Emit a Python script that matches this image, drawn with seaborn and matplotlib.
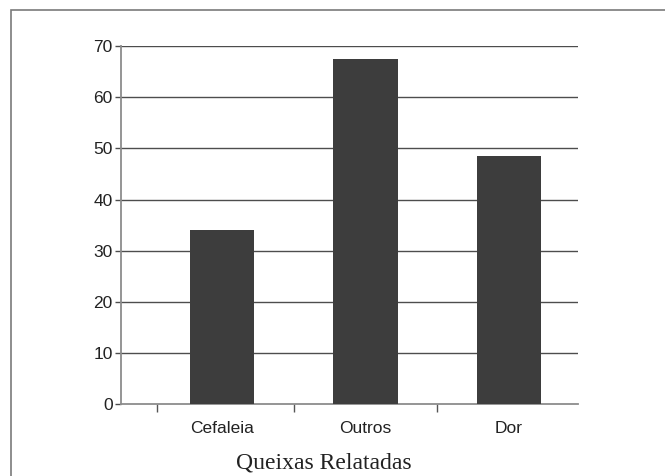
import matplotlib
matplotlib.use("Agg")
import matplotlib.pyplot as plt
import pandas as pd
import seaborn as sns
from matplotlib.patches import Rectangle

categories = ["Cefaleia", "Outros", "Dor"]
values = [34.0, 67.5, 48.5]
y_ticks = [0, 10, 20, 30, 40, 50, 60, 70]

df = pd.DataFrame({"queixa": categories, "n": values})

sns.set_theme(style="white")
plt.rcParams["font.family"] = ["Liberation Sans", "DejaVu Sans"]

fig = plt.figure(figsize=(6.65, 4.76), dpi=100)
ax = fig.add_axes([0.182, 0.151, 0.687, 0.752])

sns.barplot(data=df, x="queixa", y="n", color="#3d3d3d", saturation=1,
            width=0.45, linewidth=0, ax=ax, zorder=3)

ax.set_ylim(0, 70)
ax.set_yticks(y_ticks)
ax.set_xlim(-0.704, 2.48)
for y in y_ticks[1:]:
    ax.axhline(y, color="#4d4d4d", lw=1.0, zorder=1)

for s in ["top", "right"]:
    ax.spines[s].set_visible(False)
for s in ["left", "bottom"]:
    ax.spines[s].set_color("#8c8c8c")
    ax.spines[s].set_linewidth(1.3)

ax.tick_params(axis="y", left=True, length=4, width=1, color="#4d4d4d",
               labelsize=12.5, labelcolor="#222222", pad=2)
ax.tick_params(axis="x", which="major", bottom=False, length=0,
               labelsize=12.5, labelcolor="#222222", pad=12.5)
ax.set_xticks([-0.45, 0.5, 1.5], minor=True)
ax.tick_params(axis="x", which="minor", bottom=True, length=6, width=1,
               color="#555555")

ax.set_ylabel("")
ax.set_xlabel("Queixas Relatadas", family=["Liberation Serif", "DejaVu Serif"],
              fontsize=17, color="#222222", va="center")
ax.xaxis.set_label_coords(0.444, -0.165)

# outer frame (cropped on right and bottom)
fig.patches.append(Rectangle((11 / 665, -0.1), 1.2, 1 - 10 / 476 + 0.1,
                             transform=fig.transFigure, fill=False,
                             edgecolor="#7a7a7a", lw=1.2))

fig.savefig("out.png", dpi=100)
